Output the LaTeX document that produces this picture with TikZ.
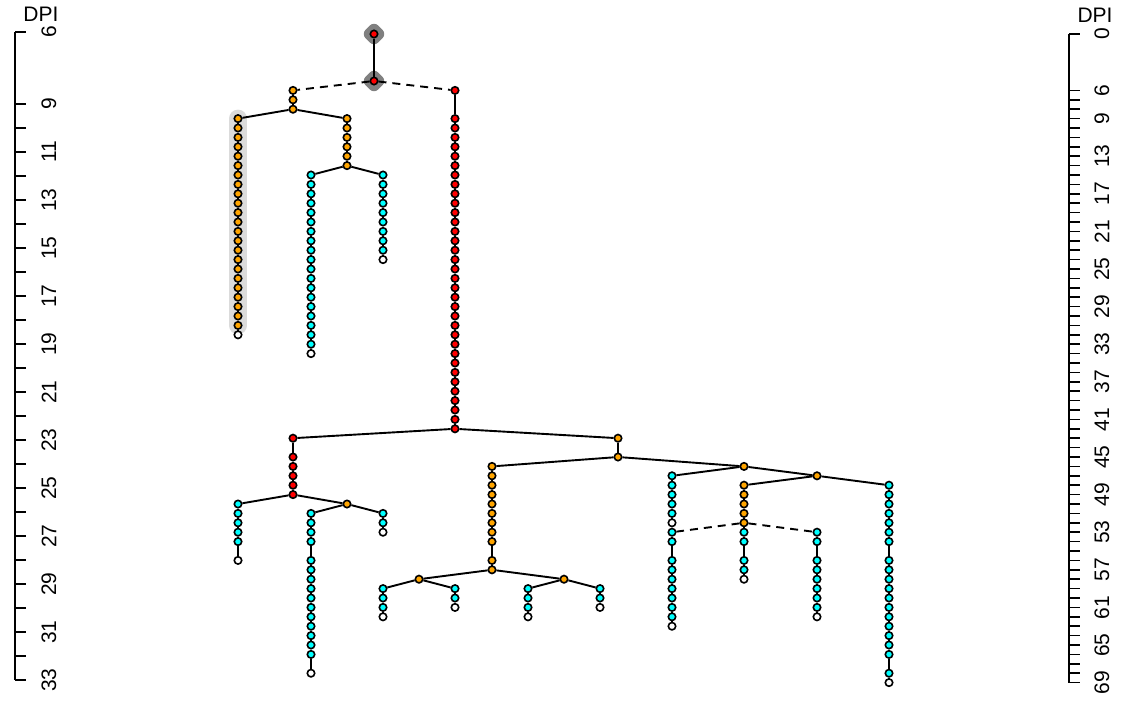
\documentclass[tikz,border=0pt]{standalone}
\usepackage{fontspec}
\setmainfont{Liberation Sans}
\usetikzlibrary{backgrounds}
\definecolor{ornge}{RGB}{255,165,0}
\definecolor{cyn}{RGB}{0,255,255}
\definecolor{rred}{RGB}{255,0,0}
\newcommand\stem[4]{\foreach \v in {#4} \node[pt, #3] (#1\v) at (#2, {34+9.4*\v}) {};}
\newcommand\link[3]{\foreach \v [remember=\v as \u (initially #2)] in {#3} \path (#1\u) edge (#1\v);}
\begin{document}
\begin{tikzpicture}[x=1pt, y=-1pt, font=\fontsize{21}{21}\selectfont,
  pt/.style={circle, draw=black, line width=1.6pt, minimum size=7.4pt, inner sep=0pt},
  rd/.style={fill=rred}, og/.style={fill=ornge}, cy/.style={fill=cyn}, wh/.style={fill=white},
  every edge/.style={draw=black, line width=1.9pt},
  dsh/.style={dash pattern=on 8pt off 6pt},
  hl/.style={rectangle, rotate=45, rounded corners=6pt, minimum size=18pt, fill=black!50},
  ax/.style={line width=1.5pt},
  lab/.style={rotate=90, inner sep=0pt}]
\useasboundingbox (0,0) rectangle (1138,702);
% axes
\draw[ax] (15,32) -- (15,680);
\foreach \v in {6,9,10,...,33} \draw[ax] (15,{32+24*(\v-6)}) -- ++(11,0);
\foreach \v in {6,9,11,...,33} \node[lab] (l\v) at (49,{32+24*(\v-6)}) {\v};
\node (ldpi) at (41,14) {DPI};
\draw[ax] (1069,34) -- (1069,{34+9.4*69});
\foreach \v in {0,6,7,...,69} \draw[ax] (1069,{34+9.4*\v}) -- ++(11,0);
\foreach \v in {0,6,9,13,...,69} \node[lab] (r\v) at (1102,{34+9.4*\v}) {\v};
\node (rdpi) at (1095,15) {DPI};
% upper tree
\stem{t}{374}{rd}{0,5}
\stem{a}{293}{og}{6,7,8}
\stem{al}{238}{og}{9,...,31} \stem{al}{238}{wh}{32}
\stem{ar}{347}{og}{9,...,14}
\stem{arl}{311}{cy}{15,...,33} \stem{arl}{311}{wh}{34}
\stem{arr}{383}{cy}{15,...,23} \stem{arr}{383}{wh}{24}
\stem{b}{455}{rd}{6,9,10,...,42}
% lower tree
\stem{bl}{293}{rd}{43,45,46,47,48,49}
\stem{bll}{238}{cy}{50,...,54} \stem{bll}{238}{wh}{56}
\stem{blr}{347}{og}{50}
\stem{blrl}{311}{cy}{51,...,54} \stem{blrl}{311}{cy}{56,...,66} \stem{blrl}{311}{wh}{68}
\stem{blrr}{383}{cy}{51,52} \stem{blrr}{383}{wh}{53}
\stem{br}{618}{og}{43,45}
\stem{c}{492}{og}{46,...,54} \stem{c}{492}{og}{56,57}
\stem{cl}{419}{og}{58} \stem{cr}{564}{og}{58}
\stem{cll}{383}{cy}{59,60,61} \stem{cll}{383}{wh}{62}
\stem{clr}{455}{cy}{59,60} \stem{clr}{455}{wh}{61}
\stem{crl}{528}{cy}{59,60,61} \stem{crl}{528}{wh}{62}
\stem{crr}{600}{cy}{59,60} \stem{crr}{600}{wh}{61}
\stem{d}{744}{og}{46}
\stem{dl}{672}{cy}{47,...,51} \stem{dl}{672}{wh}{52}
\stem{dr}{817}{og}{47}
\stem{e}{744}{og}{48,...,52} \stem{e}{744}{cy}{53,54,56,57} \stem{e}{744}{wh}{58}
\stem{f}{889}{cy}{48,...,54} \stem{f}{889}{cy}{56,...,66} \stem{f}{889}{cy}{68} \stem{f}{889}{wh}{69}
\stem{g}{672}{cy}{53,54} \stem{g}{672}{cy}{56,...,62} \stem{g}{672}{wh}{63}
\stem{h}{817}{cy}{53,54} \stem{h}{817}{cy}{56,...,61} \stem{h}{817}{wh}{62}
\begin{scope}[on background layer]
\node[hl] (h0) at (t0) {};
\node[hl] (h5) at (t5) {};
\draw[line width=18pt, line cap=round, black!14] (al9.center) -- (al31.center);
\end{scope}
% edges
\path (t0) edge (t5);
\path (t5) edge[dsh] (a6) (t5) edge[dsh] (b6);
\link{a}{6}{7,8}
\path (a8) edge (al9) (a8) edge (ar9);
\link{al}{9}{10,...,32}
\link{ar}{9}{10,...,14}
\path (ar14) edge (arl15) (ar14) edge (arr15);
\link{arl}{15}{16,...,34}
\link{arr}{15}{16,...,24}
\link{b}{6}{9,...,42}
\path (b42) edge (bl43) (b42) edge (br43);
\link{bl}{43}{45,...,49}
\path (bl49) edge (bll50) (bl49) edge (blr50);
\link{bll}{50}{51,52,53,54,56}
\path (blr50) edge (blrl51) (blr50) edge (blrr51);
\link{blrl}{51}{52,53,54} \link{blrl}{54}{56,...,66} \path (blrl66) edge (blrl68);
\link{blrr}{51}{52,53}
\path (br43) edge (br45);
\path (br45) edge (c46) (br45) edge (d46);
\link{c}{46}{47,...,54} \link{c}{54}{56,57}
\path (c57) edge (cl58) (c57) edge (cr58);
\path (cl58) edge (cll59) (cl58) edge (clr59);
\path (cr58) edge (crl59) (cr58) edge (crr59);
\link{cll}{59}{60,61,62}
\link{clr}{59}{60,61}
\link{crl}{59}{60,61,62}
\link{crr}{59}{60,61}
\path (d46) edge (dl47) (d46) edge (dr47);
\link{dl}{47}{48,...,52}
\path (dr47) edge (e48) (dr47) edge (f48);
\link{e}{48}{49,...,54} \link{e}{54}{56,57,58}
\link{f}{48}{49,...,54} \link{f}{54}{56,...,66} \link{f}{66}{68,69}
\path (e52) edge[dsh] (g53) (e52) edge[dsh] (h53);
\link{g}{53}{54,56,57,58,59,60,61,62,63}
\link{h}{53}{54,56,57,58,59,60,61,62}
\end{tikzpicture}
\end{document}
